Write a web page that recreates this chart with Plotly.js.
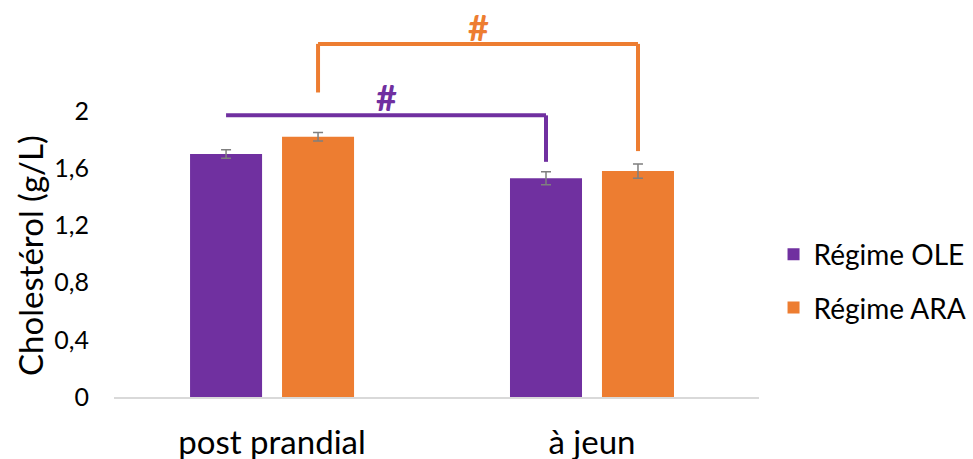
<!DOCTYPE html>
<html>
<head>
<meta charset="utf-8">
<script src="https://cdn.plot.ly/plotly-3.0.1.min.js"></script>
<style>html,body{margin:0;padding:0;background:#fff;}#chart{width:973px;height:459px;}</style>
</head>
<body>
<div id="chart"></div>
<script>
// ---- data ----
const categories = ['post prandial', 'à jeun'];
const seriesNames = ['Régime OLE', 'Régime ARA'];
const oleValues = [1.70, 1.53];
const oleErrors = [0.03, 0.045];
const araValues = [1.82, 1.58];
const araErrors = [0.03, 0.05];
const yTickValues = [0, 0.4, 0.8, 1.2, 1.6, 2];
const yTickLabels = ['0', '0,4', '0,8', '1,2', '1,6', '2'];
const yTitle = 'Cholestérol (g/L)';
// significance brackets: [level, left end, right end] in data units
const oleBracket = [1.97, 1.97, 1.645];
const araBracket = [2.47, 2.13, 1.72];
const oleMarkY = 2.10;
const araMarkY = 2.59;
const sigLabel = '#';

// ---- style ----
const purple = '#7030A0';
const orange = '#ED7D31';
const barGap = 0.425;
const barGroupGap = 0.217;
const font = 'Lato, "Open Sans", sans-serif';
const W = 973, H = 459;
const M = {l: 114, r: 214, t: 11, b: 62};

const slot = (1 - barGap) / 2;
const oleOff = -slot / 2, araOff = slot / 2;

function errBar(arr) {
  return {type: 'data', array: arr, visible: true, color: '#7f7f7f', thickness: 1.5, width: 5};
}

const traces = [
  {type: 'bar', name: seriesNames[0], x: categories, y: oleValues, marker: {color: purple},
   error_y: errBar(oleErrors), legendgroup: 'a'},
  {type: 'bar', name: seriesNames[1], x: categories, y: araValues, marker: {color: orange},
   error_y: errBar(araErrors), legendgroup: 'b'}
];

function bracket(i0, i1, off, b, color) {
  const xl = i0 + off, xr = i1 + off;
  const s = [];
  const ln = {color: color, width: 4};
  s.push({type: 'line', xref: 'x', yref: 'y', x0: xl, x1: xr, y0: b[0], y1: b[0], line: ln});
  if (b[1] !== b[0]) s.push({type: 'line', xref: 'x', yref: 'y', x0: xl, x1: xl, y0: b[1], y1: b[0], line: ln});
  if (b[2] !== b[0]) s.push({type: 'line', xref: 'x', yref: 'y', x0: xr, x1: xr, y0: b[2], y1: b[0], line: ln});
  return s;
}

const shapes = [].concat(
  bracket(0, 1, oleOff, oleBracket, purple),
  bracket(0, 1, araOff, araBracket, orange)
);

const plotW = W - M.l - M.r, plotH = H - M.t - M.b;
const annotations = [
  {xref: 'x', yref: 'y', x: 0.5 + oleOff, y: oleMarkY, text: '<b>' + sigLabel + '</b>', showarrow: false,
   font: {family: font, size: 36, color: purple}, yanchor: 'middle'},
  {xref: 'x', yref: 'y', x: 0.5 + araOff, y: araMarkY, text: '<b>' + sigLabel + '</b>', showarrow: false,
   font: {family: font, size: 36, color: orange}, yanchor: 'middle'},
  // y-axis title (placed like the reference, lower than plot centre)
  {xref: 'paper', yref: 'paper', x: (30 - M.l) / plotW, y: (H - M.b - 256) / plotH,
   xanchor: 'center', yanchor: 'middle', textangle: -90, showarrow: false,
   text: yTitle, font: {family: font, size: 33, color: '#000'}}
];

const layout = {
  width: W, height: H,
  margin: M,
  paper_bgcolor: '#fff', plot_bgcolor: '#fff',
  barmode: 'group', bargap: barGap, bargroupgap: barGroupGap,
  font: {family: font, color: '#000'},
  xaxis: {
    type: 'category', range: [-0.494, 1.522], showgrid: false, zeroline: false,
    showline: true, linecolor: '#d9d9d9', linewidth: 1.5, ticks: '',
    tickfont: {family: font, size: 33, color: '#000'}, ticklabelstandoff: 16
  },
  yaxis: {
    range: [0, 2.7], showgrid: false, zeroline: false, showline: false,
    tickvals: yTickValues, ticktext: yTickLabels, ticks: '',
    tickfont: {family: font, size: 25, color: '#000'}, ticklabelstandoff: 24
  },
  legend: {
    xref: 'container', yref: 'container',
    x: 0.795, xanchor: 'left', y: (H - 281) / H, yanchor: 'middle',
    font: {family: font, size: 28, color: '#000'},
    tracegroupgap: 14, traceorder: 'grouped', bgcolor: 'rgba(0,0,0,0)'
  },
  shapes: shapes, annotations: annotations, showlegend: true
};

Plotly.newPlot('chart', traces, layout, {displayModeBar: false, staticPlot: true});
</script>
</body>
</html>
